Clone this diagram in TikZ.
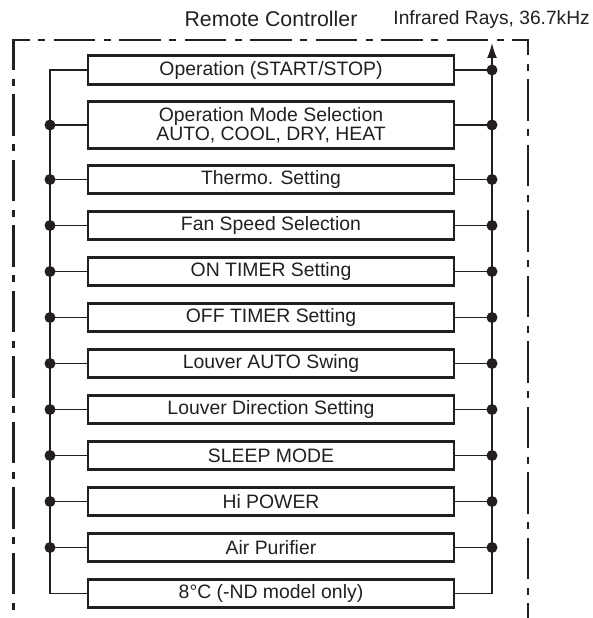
\documentclass[tikz,border=0pt]{standalone}
\usepackage{fontspec}
\setmainfont{Liberation Sans}
\usetikzlibrary{arrows.meta}
\definecolor{ink}{HTML}{231F20}
\begin{document}
\begin{tikzpicture}[x=1pt,y=-1pt,
  box/.style={draw=ink, line width=2.9pt, minimum width=366pt, minimum height=28.5pt, inner sep=0pt, outer sep=0pt, align=center, font=\fontsize{19.4}{19.5}\selectfont, text=ink},
  bus/.style={line width=1.6pt, draw=ink},
  dot/.style={circle, fill=ink, minimum size=11pt, inner sep=0pt},
  frame/.style={line width=2.8pt, draw=ink, dash pattern=on 39pt off 11pt on 4.5pt off 11pt, line cap=rect},
  lbl/.style={inner sep=0pt, text=ink}]
\useasboundingbox (0,0) rectangle (593,618);

% frame
\draw[frame, dash phase=10pt] (13.5,40) -- (13.5,618);
\draw[frame, dash phase=24pt] (13.5,40) -- (528,40);
\draw[frame, dash phase=25pt] (528,40) -- (528,618);

% titles
\node[lbl, anchor=base, font=\fontsize{21.3}{22}\selectfont] (rc) at (271,27) {Remote Controller};
\node[lbl, anchor=base east, font=\fontsize{19.2}{20}\selectfont] (ir) at (590,25) {Infrared Rays, 36.7kHz};

% boxes
\node[box] (b1) at (271,70) {Operation (START/STOP)};
\node[box, minimum height=47.5pt] (b2) at (271,125) {Operation Mode Selection\\AUTO, COOL, DRY, HEAT};
\node[box] (b3) at (271,179.5) {Thermo. Setting};
\node[box] (b4) at (271,225.5) {Fan Speed Selection};
\node[box] (b5) at (271,271.5) {ON TIMER Setting};
\node[box] (b6) at (271,317.5) {OFF TIMER Setting};
\node[box] (b7) at (271,363.5) {Louver AUTO Swing};
\node[box] (b8) at (271,409.5) {Louver Direction Setting};
\node[box] (b9) at (271,455.5) {SLEEP MODE};
\node[box] (b10) at (271,501.5) {Hi POWER};
\node[box] (b11) at (271,547.5) {Air Purifier};
\node[box] (b12) at (271,593.5) {8°C (-ND model only)};

% bus points
\coordinate (l1) at (50,70);
\coordinate (l12) at (50,593.5);
\coordinate (r12) at (492,593.5);
\coordinate (top) at (492,43);
\node[dot] (r1) at (492,70) {};
\foreach \i/\y in {2/125,3/179.5,4/225.5,5/271.5,6/317.5,7/363.5,8/409.5,9/455.5,10/501.5,11/547.5}{
  \node[dot] (l\i) at (50,\y) {};
  \node[dot] (r\i) at (492,\y) {};
}

% buses
\draw[bus] (b1.west) -- (l1) -- (l12) -- (b12.west);
\draw[bus, -{Latex[length=15pt,width=10pt]}] (b12.east) -- (r12) -- (top);
\foreach \i in {2,...,11}{
  \draw[bus] (b\i.west) -- (l\i.center);
}
\foreach \i in {1,...,11}{
  \draw[bus] (b\i.east) -- (r\i.center);
}
\end{tikzpicture}
\end{document}
